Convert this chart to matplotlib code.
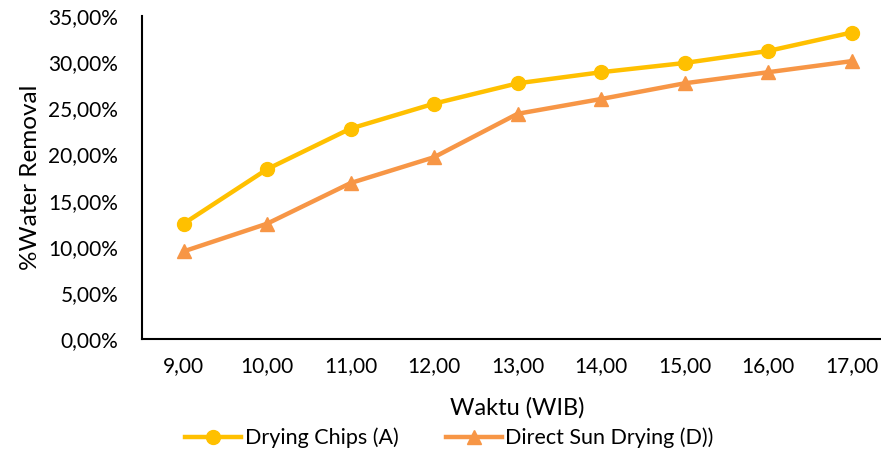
import matplotlib
matplotlib.use("Agg")
import matplotlib.pyplot as plt
from matplotlib.ticker import FuncFormatter

plt.rcParams['font.family'] = ['Lato', 'DejaVu Sans']

waktu = ["9,00", "10,00", "11,00", "12,00", "13,00", "14,00", "15,00", "16,00", "17,00"]
drying_chips = [12.5, 18.4, 22.8, 25.5, 27.7, 28.9, 29.9, 31.2, 33.2]
direct_sun = [9.5, 12.5, 16.9, 19.7, 24.4, 26.0, 27.7, 28.9, 30.1]

fig = plt.figure(figsize=(8.81, 4.54), dpi=100)
ax = fig.add_axes([0.161, 0.253, 1.014 - 0.161, 0.965 - 0.253])

x = range(len(waktu))
ax.plot(x, drying_chips, color='#FFC000', lw=3.2, marker='o', ms=10,
        label='Drying Chips (A)')
ax.plot(x, direct_sun, color='#F79646', lw=3.2, marker='^', ms=10,
        label='Direct Sun Drying (D))')

ax.set_xlim(-0.5, len(waktu) - 0.5)
ax.set_ylim(0, 35)
ax.set_yticks(range(0, 36, 5))
ax.yaxis.set_major_formatter(FuncFormatter(lambda v, p: f"{v:.2f}%".replace('.', ',')))
ax.set_xticks(list(x))
ax.set_xticklabels(waktu)
ax.tick_params(length=0, labelsize=15)
ax.tick_params(axis='y', pad=17)
ax.tick_params(axis='x', pad=12)

for s in ['top', 'right']:
    ax.spines[s].set_visible(False)
for s in ['left', 'bottom']:
    ax.spines[s].set_color('black')
    ax.spines[s].set_linewidth(1.5)

ax.set_ylabel('%Water Removal', fontsize=17.5, labelpad=5)
ax.set_xlabel('Waktu (WIB)', fontsize=17, labelpad=15)

fig.legend(loc='center', bbox_to_anchor=(0.51, 0.035), ncol=2, frameon=False,
           fontsize=15.5, handlelength=2.6, columnspacing=2.2, handletextpad=0.15)

fig.savefig('out.png', dpi=100)
